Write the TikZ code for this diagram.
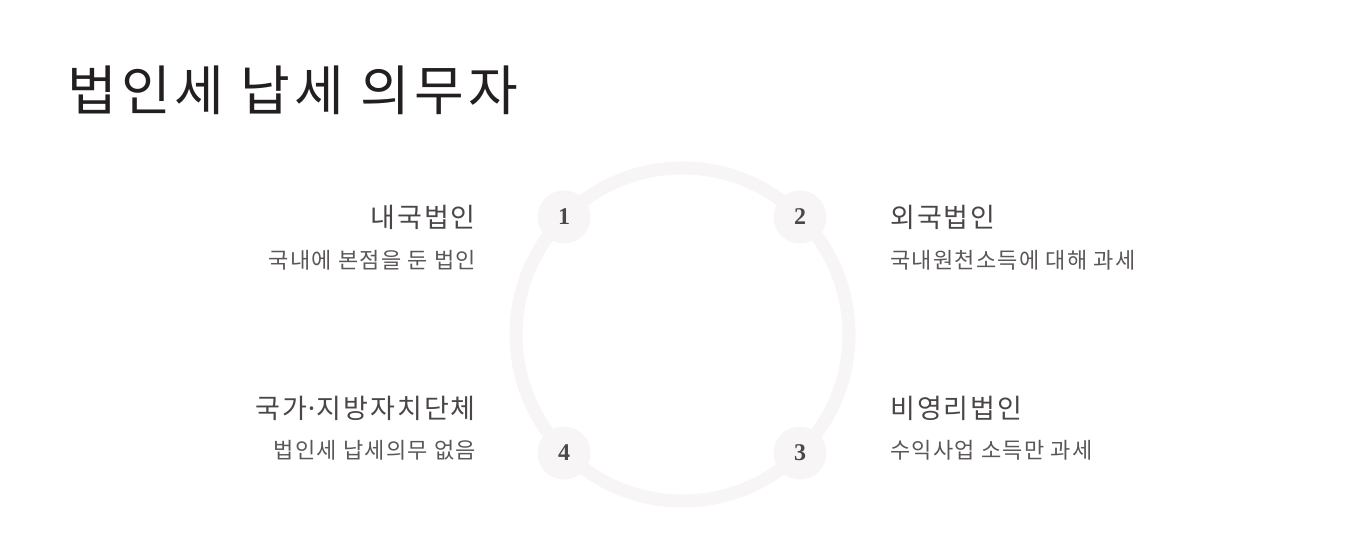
\documentclass[tikz,border=0pt]{standalone}
\usepackage{fontspec}
\setmainfont{Noto Sans CJK KR}
\newfontfamily\titlefont[LetterSpace=7.8]{Noto Sans CJK KR}
\newfontfamily\headfont[LetterSpace=7.5]{Noto Sans CJK KR}
\newfontfamily\subfont[LetterSpace=5.8]{Noto Sans CJK KR}
\newfontfamily\numfont{Liberation Serif}
\definecolor{ringgray}{HTML}{F7F5F5}
\definecolor{titleblack}{HTML}{231F20}
\definecolor{itemdark}{HTML}{4A4646}
\definecolor{subgray}{HTML}{5B5757}
\definecolor{numgray}{HTML}{4A4848}
\tikzset{
  bigtitle/.style={inner sep=0pt, anchor=base west, text=titleblack, font=\titlefont\fontsize{54}{60}\selectfont},
  itemhead/.style={inner sep=0pt, text=itemdark, font=\headfont\fontsize{27}{32}\selectfont},
  itemsub/.style={inner sep=0pt, text=subgray, font=\subfont\fontsize{22}{26}\selectfont},
  numdot/.style={circle, fill=ringgray, draw=none, minimum size=53pt, inner sep=0pt, text=numgray, font=\numfont\bfseries\fontsize{24}{26}\selectfont},
  ringstyle/.style={circle, draw=ringgray, line width=13pt, minimum size=333pt, inner sep=0pt}
}
\begin{document}
\begin{tikzpicture}[x=1pt,y=-1pt]
\useasboundingbox (0,0) rectangle (1354,554);
\node[bigtitle] (title) at (67,110) {법인세 납세 의무자};
\node[ringstyle] (ring) at (682.5,334.5) {};
\node[numdot] (n1) at (564,217) {1};
\node[numdot] (n2) at (800,217) {2};
\node[numdot] (n3) at (800,453) {3};
\node[numdot] (n4) at (564,453) {4};
\node[itemhead, anchor=base east] (h1) at (476,227) {내국법인};
\node[itemsub, anchor=base east] (s1) at (476,268) {국내에 본점을 둔 법인};
\node[itemhead, anchor=base west] (h2) at (890,227) {외국법인};
\node[itemsub, anchor=base west] (s2) at (890,268) {국내원천소득에 대해 과세};
\node[itemhead, anchor=base east] (h4) at (476,418) {국가\kern-3pt·\kern-3pt지방자치단체};
\node[itemsub, anchor=base east] (s4) at (476,458) {법인세 납세의무 없음};
\node[itemhead, anchor=base west] (h3) at (890,418) {비영리법인};
\node[itemsub, anchor=base west] (s3) at (890,458) {수익사업 소득만 과세};
\end{tikzpicture}
\end{document}
